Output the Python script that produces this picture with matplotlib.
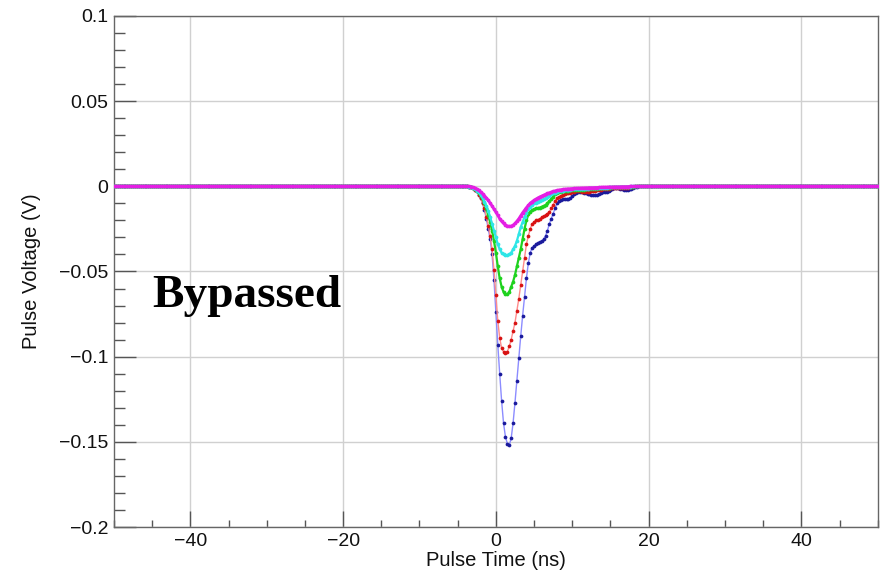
import numpy as np
import matplotlib
matplotlib.use("Agg")
import matplotlib.pyplot as plt
from matplotlib.ticker import MultipleLocator

# Pulse region sampled every 0.25 ns from -4 to 20 ns
t_pulse = np.arange(-4, 20.01, 0.25)
# Flat baseline outside the pulse (reads as 0 V)
t_pre = np.arange(-50, -4, 0.25)
t_post = np.arange(20.25, 50.01, 0.25)

blue_core = [0, 0, -0.0003, -0.0006, -0.001, -0.002, -0.003, -0.005, -0.007, -0.010,
             -0.014, -0.019, -0.025, -0.031, -0.040, -0.055, -0.074, -0.093, -0.110, -0.126,
             -0.139, -0.147, -0.151, -0.152, -0.148, -0.139, -0.127, -0.114, -0.101, -0.088,
             -0.076, -0.065, -0.054, -0.045, -0.039, -0.036, -0.035, -0.034, -0.033, -0.0325,
             -0.032, -0.031, -0.029, -0.026, -0.022, -0.019, -0.016, -0.013, -0.010]
blue_tail = [-0.0088, -0.0078, -0.0073, -0.0072, -0.0074, -0.0076, -0.0068, -0.0058, -0.0048, -0.0040,
             -0.0035, -0.0034, -0.0036, -0.0038, -0.0041, -0.0044, -0.0047, -0.0050, -0.0052, -0.0052,
             -0.0049, -0.0045, -0.0040, -0.0036, -0.0034, -0.0032, -0.0028, -0.0022, -0.0016, -0.0012,
             -0.0011, -0.0012, -0.0015, -0.0018, -0.0021, -0.0023, -0.0022, -0.0018, -0.0013, -0.0008,
             -0.0004, -0.0002, 0, 0, 0, 0, 0, 0]

red_core = [0, 0, -0.0003, -0.0006, -0.001, -0.002, -0.003, -0.005, -0.007, -0.010,
            -0.013, -0.018, -0.023, -0.029, -0.037, -0.049, -0.064, -0.079, -0.089, -0.095,
            -0.097, -0.098, -0.097, -0.094, -0.090, -0.085, -0.080, -0.073, -0.066, -0.058,
            -0.050, -0.042, -0.034, -0.029, -0.025, -0.022, -0.021, -0.020, -0.0195, -0.019,
            -0.018, -0.0175, -0.017, -0.016, -0.015, -0.013, -0.011, -0.0085, -0.0068]
red_tail = [-0.0061, -0.0055, -0.0050, -0.0045, -0.0042, -0.0040, -0.0037, -0.0035, -0.0032, -0.0030,
            -0.0030, -0.0030, -0.0031, -0.0032, -0.0033, -0.0033, -0.0032, -0.0030, -0.0028, -0.0026,
            -0.0024, -0.0022, -0.0020, -0.0018, -0.0016, -0.0015, -0.0013, -0.0012, -0.0011, -0.0010,
            -0.0009, -0.0008, -0.0008, -0.0008, -0.0008, -0.0008, -0.0007, -0.0005, -0.0004, -0.0003,
            -0.0001, 0, 0, 0, 0, 0, 0, 0]

green_core = [0, 0, -0.0003, -0.0006, -0.001, -0.0018, -0.0028, -0.004, -0.0055, -0.0075,
              -0.010, -0.013, -0.017, -0.021, -0.026, -0.032, -0.039, -0.047, -0.054, -0.059,
              -0.062, -0.0635, -0.0635, -0.062, -0.059, -0.056, -0.052, -0.047, -0.042, -0.037,
              -0.031, -0.025, -0.020, -0.0165, -0.0148, -0.014, -0.0135, -0.013, -0.0128, -0.0125,
              -0.012, -0.0115, -0.011, -0.010, -0.0088, -0.0075, -0.006, -0.0048, -0.004]
green_tail = [-0.0036, -0.0033, -0.0030, -0.0028, -0.0026, -0.0025, -0.0023, -0.0022, -0.0021, -0.0020,
              -0.0019, -0.0019, -0.0019, -0.0019, -0.0018, -0.0018, -0.0017, -0.0016, -0.0015, -0.0014,
              -0.0013, -0.0012, -0.0011, -0.0010, -0.0009, -0.0008, -0.0008, -0.0007, -0.0006, -0.0006,
              -0.0005, -0.0005, -0.0004, -0.0004, -0.0004, -0.0004, -0.0003, -0.0003, -0.0002, -0.0002,
              -0.0001, 0, 0, 0, 0, 0, 0, 0]

cyan_core = [0, 0, -0.0002, -0.0005, -0.001, -0.0016, -0.0025, -0.0036, -0.005, -0.0068,
             -0.009, -0.0115, -0.0145, -0.018, -0.022, -0.026, -0.030, -0.034, -0.037, -0.039,
             -0.040, -0.0405, -0.0405, -0.040, -0.039, -0.037, -0.035, -0.032, -0.028, -0.024,
             -0.021, -0.018, -0.0155, -0.0135, -0.012, -0.011, -0.010, -0.0095, -0.009, -0.0085,
             -0.008, -0.0075, -0.007, -0.0062, -0.0055, -0.0048, -0.0042, -0.0037, -0.0033]
cyan_tail = [-0.0030, -0.0027, -0.0025, -0.0023, -0.0021, -0.0020, -0.0019, -0.0018, -0.0017, -0.0016,
             -0.0015, -0.0015, -0.0014, -0.0014, -0.0013, -0.0013, -0.0012, -0.0012, -0.0011, -0.0010,
             -0.0009, -0.0009, -0.0008, -0.0008, -0.0007, -0.0007, -0.0006, -0.0006, -0.0005, -0.0005,
             -0.0004, -0.0004, -0.0003, -0.0003, -0.0003, -0.0003, -0.0002, -0.0002, -0.0001, -0.0001,
             0, 0, 0, 0, 0, 0, 0, 0]

magenta_core = [0, 0, -0.0001, -0.0003, -0.0006, -0.001, -0.0016, -0.0024, -0.0033, -0.0043,
                -0.0055, -0.0068, -0.0082, -0.0098, -0.0115, -0.0133, -0.015, -0.017, -0.019, -0.0205,
                -0.0218, -0.0227, -0.0233, -0.0235, -0.0234, -0.0228, -0.0218, -0.0205, -0.019, -0.0172,
                -0.0155, -0.014, -0.0125, -0.0112, -0.010, -0.009, -0.0082, -0.0075, -0.0068, -0.0062,
                -0.0057, -0.0052, -0.0047, -0.0042, -0.0038, -0.0034, -0.003, -0.0027, -0.0024]
magenta_tail = [-0.0022, -0.0020, -0.0018, -0.0017, -0.0016, -0.0015, -0.0014, -0.0013, -0.0012, -0.0012,
                -0.0011, -0.0011, -0.0010, -0.0010, -0.0009, -0.0009, -0.0008, -0.0008, -0.0008, -0.0007,
                -0.0007, -0.0006, -0.0006, -0.0005, -0.0005, -0.0005, -0.0004, -0.0004, -0.0004, -0.0003,
                -0.0003, -0.0003, -0.0003, -0.0002, -0.0002, -0.0002, -0.0002, -0.0001, -0.0001, -0.0001,
                0, 0, 0, 0, 0, 0, 0, 0]

# (core, tail, marker colour, line colour, line width), drawn bottom to top
series = [
    (blue_core, blue_tail, "#1a1a9c", "#8c8cff", 1.0),
    (red_core, red_tail, "#d81212", "#ff8c8c", 1.0),
    (green_core, green_tail, "#1ed21e", "#1ed21e", 1.6),
    (cyan_core, cyan_tail, "#2ee6e6", "#2ee6e6", 1.6),
    (magenta_core, magenta_tail, "#e41ee4", "#e41ee4", 2.0),
]

plt.rcParams["font.family"] = ["Liberation Sans", "DejaVu Sans"]

fig = plt.figure(figsize=(8.8, 5.79), dpi=100)
ax = fig.add_axes([0.1295, 0.0898, 0.868, 0.8826])

for core, tail, mcol, lcol, lw in series:
    t = np.concatenate([t_pre, t_pulse, t_post])
    v = np.concatenate([np.zeros(len(t_pre)), core, tail, np.zeros(len(t_post))])
    ax.plot(t, v, color=lcol, lw=lw, marker="o", markersize=2.7,
            markerfacecolor=mcol, markeredgewidth=0, zorder=3)

ax.set_xlim(-50, 50)
ax.set_ylim(-0.2, 0.1)

ax.xaxis.set_minor_locator(MultipleLocator(5))
ax.yaxis.set_minor_locator(MultipleLocator(0.01))
ax.set_yticks([0.1, 0.05, 0, -0.05, -0.1, -0.15, -0.2])
ax.set_yticklabels(["0.1", "0.05", "0", "\u22120.05", "\u22120.1", "\u22120.15", "\u22120.2"])
ax.set_xticks([-40, -20, 0, 20, 40])
ax.set_xticklabels(["\u221240", "\u221220", "0", "20", "40"])

ax.tick_params(axis="both", which="both", direction="in", color="#555555",
               width=1.0, labelsize=14, labelcolor="#111111", top=False, right=False)
ax.tick_params(axis="x", which="major", length=11.5, pad=4)
ax.tick_params(axis="x", which="minor", length=5)
ax.tick_params(axis="y", which="major", length=16, pad=4)
ax.tick_params(axis="y", which="minor", length=8)

for sp in ax.spines.values():
    sp.set_color("#666666")
    sp.set_linewidth(1.0)

ax.grid(True, which="major", color="#d0d0d0", lw=1.0, zorder=0)
ax.set_axisbelow(True)

ax.set_xlabel("Pulse Time (ns)", fontsize=14.5, labelpad=1, color="#111111")
ax.set_ylabel("Pulse Voltage (V)", fontsize=14.5, labelpad=13, color="#111111")

fig.text(0.1727, 0.4698, "Bypassed", fontsize=34, fontweight="bold",
         family=["Liberation Serif", "DejaVu Serif"], ha="left", va="baseline")

fig.savefig("out.png", dpi=100)
